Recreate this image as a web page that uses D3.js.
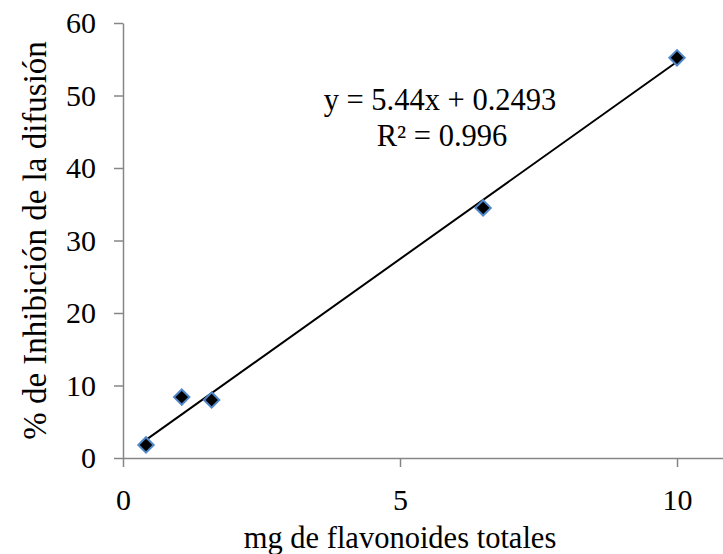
<!DOCTYPE html>
<html>
<head>
<meta charset="utf-8">
<script src="https://cdn.jsdelivr.net/npm/d3@7/dist/d3.min.js"></script>
<style>
  html, body { margin: 0; padding: 0; background: #fff; }
  svg { display: block; }
  .axis text { font-family: "Liberation Serif", "Times New Roman", serif; font-size: 30px; fill: #000; }
  .axis path, .axis line { stroke: #868686; stroke-width: 1.5px; }
  .title { font-family: "Liberation Serif", "Times New Roman", serif; font-size: 30.5px; fill: #000; }
  .ytitle { font-size: 33px; }
</style>
</head>
<body>
<svg id="chart" width="723" height="554"></svg>
<script>
// Total flavonoids (mg) vs. % inhibition of diffusion
const flavonoidMg = [0.415, 1.06, 1.6, 6.5, 10];
const inhibitionPct = [1.8, 8.4, 8.0, 34.5, 55.2];
const xTicks = [0, 5, 10];
const yTicks = [0, 10, 20, 30, 40, 50, 60];
const slope = 5.44;
const intercept = 0.2493;
const rSquared = 0.996;

const svg = d3.select("#chart");

const x = d3.scaleLinear().domain([0, 10.83]).range([123, 723]);
const y = d3.scaleLinear().domain([0, 60]).range([458, 23]);

svg.append("g")
  .attr("class", "axis")
  .attr("transform", `translate(0,${y(0)})`)
  .call(d3.axisBottom(x).tickValues(xTicks).tickSize(9).tickSizeOuter(0).tickPadding(22).tickFormat(d3.format("d")));

svg.append("g")
  .attr("class", "axis")
  .attr("transform", `translate(${x(0)},0)`)
  .call(d3.axisLeft(y).tickValues(yTicks).tickSize(9).tickSizeOuter(0).tickPadding(18).tickFormat(d3.format("d")));

// Linear trendline across the data range
const xs = d3.extent(flavonoidMg);
svg.append("line")
  .attr("x1", x(xs[0])).attr("y1", y(slope * xs[0] + intercept))
  .attr("x2", x(xs[1])).attr("y2", y(slope * xs[1] + intercept))
  .attr("stroke", "#000").attr("stroke-width", 2);

// Diamond markers
const diamond = d3.symbol().type(d3.symbolDiamond2).size(150);
svg.append("g").selectAll("path")
  .data(flavonoidMg.map((v, i) => [v, inhibitionPct[i]]))
  .join("path")
  .attr("d", diamond)
  .attr("transform", d => `translate(${x(d[0])},${y(d[1])})`)
  .attr("fill", "#000")
  .attr("stroke", "#4f87c9")
  .attr("stroke-width", 2);

// Regression equation
const eq = svg.append("text").attr("class", "title").attr("text-anchor", "middle");
eq.append("tspan").attr("x", 440).attr("y", 110).text(`y = ${slope}x + ${intercept}`);
eq.append("tspan").attr("x", 442).attr("y", 146).text(`R² = ${rSquared}`);

// Axis titles
svg.append("text").attr("class", "title")
  .attr("text-anchor", "middle")
  .attr("x", 400).attr("y", 548)
  .text("mg de flavonoides totales");

svg.append("text").attr("class", "title ytitle")
  .attr("text-anchor", "middle")
  .attr("transform", `translate(46,${(y(0) + y(60)) / 2}) rotate(-90)`)
  .text("% de Inhibición de la difusión");
</script>
</body>
</html>
